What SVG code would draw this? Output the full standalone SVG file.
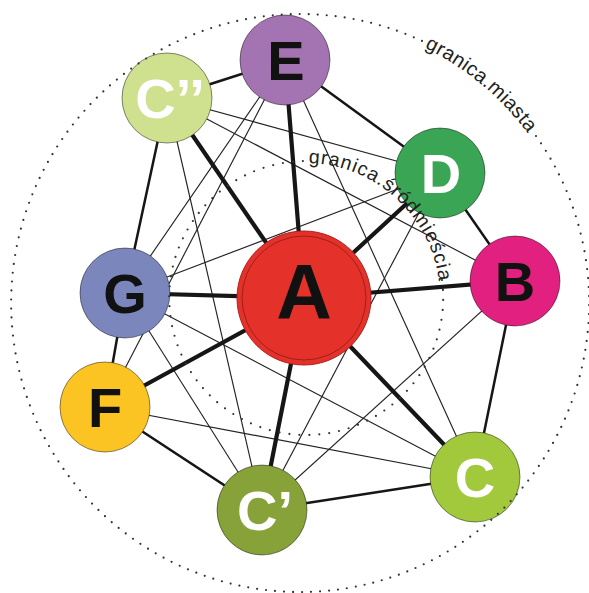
<svg xmlns="http://www.w3.org/2000/svg" width="589" height="593" viewBox="0 0 589 593">
<defs>
<style>
.dots{fill:none;stroke:#333;stroke-linecap:round;stroke-width:2.2}
.thick{stroke:#161616;stroke-width:4.2;stroke-linecap:round}
.mid{stroke:#161616;stroke-width:2.5;stroke-linecap:round}
.thin{stroke:#222;stroke-width:1.15}
.node{stroke:rgba(0,0,0,0.45);stroke-width:1}
.lbl{font-family:"Liberation Sans",Arial,Helvetica,sans-serif;font-weight:bold;font-size:56px;text-anchor:middle}
.arc{font-family:"Liberation Sans",Arial,Helvetica,sans-serif;fill:#222}
</style>
<path id="outerTextPath" d="M424.5,47.7 A284,284 0 0 1 566.9,205.9"/>
<path id="innerTextPath" d="M308.5,163.05 A135,135 0 0 1 437.9,321.4"/>
</defs>
<rect width="589" height="593" fill="#fff"/>
<g id="connectors">
<line class="thin" x1="167" y1="98" x2="440" y2="173"/>
<line class="thin" x1="167" y1="98" x2="515" y2="281"/>
<line class="thin" x1="167" y1="98" x2="262" y2="510"/>
<line class="thin" x1="285" y1="60" x2="125" y2="293"/>
<line class="thin" x1="285" y1="60" x2="105" y2="407"/>
<line class="thin" x1="285" y1="60" x2="475" y2="477"/>
<line class="thin" x1="125" y1="293" x2="440" y2="173"/>
<line class="thin" x1="125" y1="293" x2="475" y2="477"/>
<line class="thin" x1="125" y1="293" x2="262" y2="510"/>
<line class="thin" x1="105" y1="407" x2="475" y2="477"/>
<line class="thin" x1="262" y1="510" x2="440" y2="173"/>
<line class="thin" x1="262" y1="510" x2="515" y2="281"/>
<line class="mid" x1="167" y1="98" x2="285" y2="60"/>
<line class="mid" x1="285" y1="60" x2="440" y2="173"/>
<line class="mid" x1="440" y1="173" x2="515" y2="281"/>
<line class="mid" x1="515" y1="281" x2="475" y2="477"/>
<line class="mid" x1="475" y1="477" x2="262" y2="510"/>
<line class="mid" x1="262" y1="510" x2="105" y2="407"/>
<line class="mid" x1="105" y1="407" x2="125" y2="293"/>
<line class="mid" x1="125" y1="293" x2="167" y2="98"/>
<line class="thick" x1="304" y1="298" x2="285" y2="60"/>
<line class="thick" x1="304" y1="298" x2="440" y2="173"/>
<line class="thick" x1="304" y1="298" x2="515" y2="281"/>
<line class="thick" x1="304" y1="298" x2="475" y2="477"/>
<line class="thick" x1="304" y1="298" x2="262" y2="510"/>
<line class="thick" x1="304" y1="298" x2="105" y2="407"/>
<line class="thick" x1="304" y1="298" x2="125" y2="293"/>
<line class="thick" x1="304" y1="298" x2="167" y2="98"/>
</g>
<g id="node-A">
<circle cx="304" cy="298" r="67" fill="#e4322b" stroke="#b02020" stroke-width="1"/>
<circle cx="304" cy="298" r="62" fill="none" stroke="#8a1a14" stroke-width="0.8"/>
<text class="lbl" x="304" y="319" style="font-size:77px" fill="#111">A</text>
</g>
<g id="node-E">
<circle class="node" cx="285" cy="60" r="45" fill="#a474b2"/>
<text class="lbl" x="286" y="80" fill="#111">E</text>
</g>
<g id="node-Cbis">
<circle class="node" cx="167" cy="98" r="45" fill="#cfe08e"/>
<text class="lbl" x="170" y="118" fill="#fff">C’’</text>
</g>
<g id="node-D">
<circle class="node" cx="440" cy="173" r="45" fill="#3aa655"/>
<text class="lbl" x="441" y="193" fill="#fff">D</text>
</g>
<g id="node-B">
<circle class="node" cx="515" cy="281" r="45" fill="#e1207f"/>
<text class="lbl" x="515" y="301" fill="#111">B</text>
</g>
<g id="node-G">
<circle class="node" cx="125" cy="293" r="45" fill="#7b86bd"/>
<text class="lbl" x="125" y="313" fill="#111">G</text>
</g>
<g id="node-F">
<circle class="node" cx="105" cy="407" r="45" fill="#fbc423"/>
<text class="lbl" x="105" y="427" fill="#111">F</text>
</g>
<g id="node-Cprime">
<circle class="node" cx="262" cy="510" r="45" fill="#88a23a"/>
<text class="lbl" x="265" y="530" fill="#fff">C’</text>
</g>
<g id="node-C">
<circle class="node" cx="475" cy="477" r="45" fill="#a2c83c"/>
<text class="lbl" x="475" y="497" fill="#fff">C</text>
</g>
<g id="boundaries">
<path class="dots" stroke-dasharray="0 9" d="M536,136 A289,289 0 1 1 426.7,43.2"/>
<path class="dots" stroke-dasharray="0 10" d="M442,280 A137,137 0 1 1 306.2,161"/>
<text class="arc" style="font-size:20px" letter-spacing="0.4"><textPath href="#outerTextPath">granica.miasta</textPath></text>
<text class="arc" style="font-size:19.5px" letter-spacing="1"><textPath href="#innerTextPath">granica.śródmieścia</textPath></text>
</g>
</svg>
